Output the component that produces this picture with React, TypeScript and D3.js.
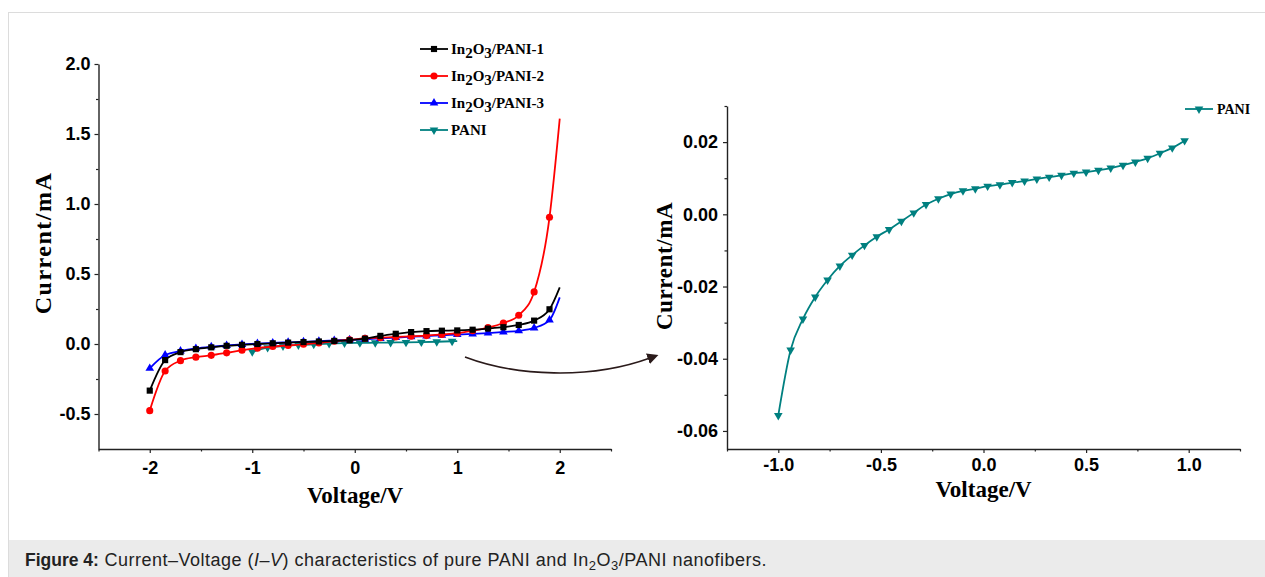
import { useEffect, useRef } from "react";
import * as d3 from "d3";

// left panel: all three composites share the same voltage sweep
const VOLTS = [
  -2, -1.85, -1.7, -1.55, -1.4, -1.25, -1.1, -0.95, -0.8, -0.65, -0.5, -0.35, -0.2, -0.05,
  0.1, 0.25, 0.4, 0.55, 0.7, 0.85, 1.0, 1.15, 1.3, 1.45, 1.6, 1.75, 1.9, 2.0,
];
const PANI_1 = [
  -0.333, -0.115, -0.058, -0.037, -0.024, -0.013, -0.006, 0.0, 0.005, 0.01, 0.014, 0.018, 0.022, 0.027,
  0.038, 0.058, 0.073, 0.085, 0.092, 0.095, 0.097, 0.102, 0.11, 0.12, 0.136, 0.167, 0.248, 0.405,
];
const PANI_2 = [
  -0.476, -0.193, -0.119, -0.094, -0.081, -0.063, -0.044, -0.03, -0.018, -0.01, -0.002, 0.008, 0.02, 0.03,
  0.04, 0.045, 0.05, 0.055, 0.06, 0.068, 0.077, 0.095, 0.117, 0.15, 0.205, 0.372, 0.905, 1.61,
];
const PANI_3 = [
  -0.174, -0.079, -0.05, -0.031, -0.019, -0.01, -0.003, 0.003, 0.008, 0.012, 0.016, 0.02, 0.025, 0.03,
  0.034, 0.04, 0.046, 0.052, 0.057, 0.062, 0.067, 0.072, 0.078, 0.086, 0.094, 0.115, 0.171, 0.333,
];
const PANI_LEFT_V = [-1, -0.85, -0.7, -0.55, -0.4, -0.25, -0.1, 0.05, 0.2, 0.35, 0.5, 0.65, 0.8, 0.95, 1.0];
const PANI_LEFT_I = [
  -0.0557, -0.026, -0.0143, -0.0074, -0.0019, 0.0035, 0.0065, 0.008, 0.0092, 0.0105, 0.0117, 0.0135, 0.016,
  0.0195, 0.0204,
];

// right panel: pure PANI, zoomed
const PANI_V = [
  -1.0, -0.94, -0.88, -0.82, -0.76, -0.7, -0.64, -0.58, -0.52, -0.46, -0.4, -0.34, -0.28, -0.22, -0.16, -0.1,
  -0.04, 0.02, 0.08, 0.14, 0.2, 0.26, 0.32, 0.38, 0.44, 0.5, 0.56, 0.62, 0.68, 0.74, 0.8, 0.86, 0.92, 0.98,
];
const PANI_I = [
  -0.0557, -0.0376, -0.029, -0.0229, -0.0182, -0.0143, -0.0113, -0.0086, -0.0062, -0.0042, -0.0019, 0.0004,
  0.0027, 0.0043, 0.0056, 0.0065, 0.0071, 0.0078, 0.0082, 0.0088, 0.0092, 0.0098, 0.0103, 0.0108, 0.0114,
  0.0117, 0.0122, 0.0128, 0.0136, 0.0145, 0.0155, 0.0169, 0.0184, 0.0204,
];

const LEFT_X_MAJOR = [-2, -1, 0, 1, 2];
const LEFT_X_MINOR = [-2.5, -1.5, -0.5, 0.5, 1.5, 2.5];
const LEFT_Y_MAJOR = [-0.5, 0, 0.5, 1.0, 1.5, 2.0];
const LEFT_Y_MINOR = [-0.25, 0.25, 0.75, 1.25, 1.75];
const RIGHT_X_MAJOR = [-1.0, -0.5, 0, 0.5, 1.0];
const RIGHT_X_MINOR = [-1.25, -0.75, -0.25, 0.25, 0.75, 1.25];
const RIGHT_Y_MAJOR = [-0.06, -0.04, -0.02, 0, 0.02];
const RIGHT_Y_MINOR = [-0.05, -0.03, -0.01, 0.01, 0.03];

const W = 1265;
const H = 577;
const SERIF = "'Liberation Serif', 'Times New Roman', serif";
const SANS = "'Liberation Sans', Arial, sans-serif";
const AXIS_COLOR = "#222";

type Series = {
  name: string;
  sub: boolean;
  color: string;
  shape: d3.SymbolType;
  size: number;
  flip: boolean;
  v: number[];
  i: number[];
};

function App() {
  const ref = useRef<SVGSVGElement>(null);

  useEffect(() => {
    const svg = d3.select(ref.current);
    svg.selectAll("*").remove();

    // figure frame + caption band
    svg
      .append("rect")
      .attr("x", 8.5)
      .attr("y", 12.5)
      .attr("width", W + 20)
      .attr("height", H + 20)
      .attr("fill", "#fff")
      .attr("stroke", "#dcdcdc");
    svg.append("rect").attr("x", 9).attr("y", 540).attr("width", W).attr("height", 40).attr("fill", "#ebebeb");

    const caption = svg
      .append("text")
      .attr("x", 25)
      .attr("y", 566)
      .attr("fill", "#222")
      .style("font-family", SANS)
      .style("font-size", "18px")
      .style("letter-spacing", "0.5px");
    caption
      .append("tspan")
      .attr("font-weight", "bold")
      .attr("font-size", "17.5px")
      .style("letter-spacing", "0px")
      .text("Figure 4:");
    caption.append("tspan").text(" Current\u2013Voltage (");
    caption.append("tspan").attr("font-style", "italic").text("I\u2013V");
    caption.append("tspan").text(") characteristics of pure PANI and In");
    caption.append("tspan").attr("font-size", "13px").attr("dy", 4).text("2");
    caption.append("tspan").attr("dy", -4).text("O");
    caption.append("tspan").attr("font-size", "13px").attr("dy", 4).text("3");
    caption.append("tspan").attr("dy", -4).text("/PANI nanofibers.");

    const xL = d3.scaleLinear().domain([-2.5, 2.5]).range([98.5, 611]);
    const yL = d3.scaleLinear().domain([-0.75, 2.0]).range([449, 64]);
    const xR = d3.scaleLinear().domain([-1.25, 1.25]).range([727, 1240]);
    const yR = d3.scaleLinear().domain([-0.065, 0.03]).range([449, 106]);

    function drawAxis(
      orient: "left" | "bottom",
      scale: d3.ScaleLinear<number, number>,
      pos: number,
      major: number[],
      minor: number[],
      fmt: (d: number) => string,
      pad: number
    ) {
      const make = orient === "left" ? d3.axisLeft : d3.axisBottom;
      const tr = orient === "left" ? `translate(${pos},0)` : `translate(0,${pos})`;
      const gMinor = svg
        .append("g")
        .attr("transform", tr)
        .call(make(scale).tickValues(minor).tickSize(2.5).tickSizeOuter(0).tickFormat(() => ""));
      gMinor.select(".domain").remove();
      gMinor.selectAll("line").attr("stroke", AXIS_COLOR).attr("stroke-width", 1.2);
      const g = svg
        .append("g")
        .attr("transform", tr)
        .call(
          make(scale)
            .tickValues(major)
            .tickSize(4)
            .tickSizeOuter(0)
            .tickPadding(pad)
            .tickFormat((d) => fmt(d as number))
        );
      g.select(".domain").attr("stroke", AXIS_COLOR).attr("stroke-width", 1.4);
      g.selectAll("line").attr("stroke", AXIS_COLOR).attr("stroke-width", 1.2);
      g.selectAll("text")
        .attr("fill", "#000")
        .style("font-family", SANS)
        .style("font-size", "18px")
        .style("font-weight", "bold");
    }

    drawAxis("left", yL, 98.5, LEFT_Y_MAJOR, LEFT_Y_MINOR, (d) => d.toFixed(1), 4);
    drawAxis("bottom", xL, 449, LEFT_X_MAJOR, LEFT_X_MINOR, (d) => d.toFixed(0), 8);
    drawAxis("left", yR, 727, RIGHT_Y_MAJOR, RIGHT_Y_MINOR, (d) => d.toFixed(2), 5);
    drawAxis("bottom", xR, 449, RIGHT_X_MAJOR, RIGHT_X_MINOR, (d) => d.toFixed(1), 5);

    // axis titles
    const title = (x: number, y: number, size: number, txt: string, rot: boolean, spacing = 0) =>
      svg
        .append("text")
        .attr("transform", rot ? `translate(${x},${y}) rotate(-90)` : `translate(${x},${y})`)
        .attr("text-anchor", "middle")
        .attr("fill", "#000")
        .style("font-family", SERIF)
        .style("font-size", `${size}px`)
        .style("font-weight", "bold")
        .style("letter-spacing", `${spacing}px`)
        .text(txt);
    title(51, 243, 24, "Current/mA", true, 1.5);
    title(355, 503, 23, "Voltage/V", false);
    title(672, 266, 23, "Current/mA", true, 0.6);
    title(983.5, 497, 23, "Voltage/V", false);

    const series: Series[] = [
      { name: "/PANI-1", sub: true, color: "#000000", shape: d3.symbolSquare, size: 38, flip: false, v: VOLTS, i: PANI_1 },
      { name: "/PANI-2", sub: true, color: "#ff0000", shape: d3.symbolCircle, size: 40, flip: false, v: VOLTS, i: PANI_2 },
      { name: "/PANI-3", sub: true, color: "#0000ff", shape: d3.symbolTriangle, size: 32, flip: false, v: VOLTS, i: PANI_3 },
      { name: "PANI", sub: false, color: "#008080", shape: d3.symbolTriangle, size: 32, flip: true, v: PANI_LEFT_V, i: PANI_LEFT_I },
    ];

    const drawSeries = (
      s: { color: string; shape: d3.SymbolType; size: number; flip: boolean; v: number[]; i: number[] },
      x: d3.ScaleLinear<number, number>,
      y: d3.ScaleLinear<number, number>,
      markLast: boolean
    ) => {
      const pts: [number, number][] = s.v.map((v, k) => [v, s.i[k]]);
      const line = d3
        .line<[number, number]>()
        .x((d) => x(d[0]))
        .y((d) => y(d[1]))
        .curve(d3.curveMonotoneX);
      svg
        .append("path")
        .datum(pts)
        .attr("fill", "none")
        .attr("stroke", s.color)
        .attr("stroke-width", 1.8)
        .attr("d", line);
      const marked = markLast ? pts : pts.slice(0, -1);
      svg
        .append("g")
        .selectAll("path")
        .data(marked)
        .enter()
        .append("path")
        .attr("d", d3.symbol().type(s.shape).size(s.size)())
        .attr("transform", (d) => `translate(${x(d[0])},${y(d[1])})${s.flip ? " rotate(180)" : ""}`)
        .attr("fill", s.color);
    };

    // draw order: PANI under, then blue, red, black on top like the original
    drawSeries(series[3], xL, yL, false);
    drawSeries(series[2], xL, yL, false);
    drawSeries(series[1], xL, yL, false);
    drawSeries(series[0], xL, yL, false);

    // left legend
    series.forEach((s, k) => {
      const ly = 49 + k * 27;
      svg
        .append("line")
        .attr("x1", 420)
        .attr("x2", 448)
        .attr("y1", ly)
        .attr("y2", ly)
        .attr("stroke", s.color)
        .attr("stroke-width", 1.8);
      svg
        .append("path")
        .attr("d", d3.symbol().type(s.shape).size(s.size)())
        .attr("transform", `translate(434,${ly})${s.flip ? " rotate(180)" : ""}`)
        .attr("fill", s.color);
      const t = svg
        .append("text")
        .attr("x", 451)
        .attr("y", ly + 5)
        .attr("fill", "#000")
        .style("font-family", SERIF)
        .style("font-size", "15px")
        .style("font-weight", "bold");
      if (s.sub) {
        t.append("tspan").text("In");
        t.append("tspan").attr("dy", 4).text("2");
        t.append("tspan").attr("dy", -4).text("O");
        t.append("tspan").attr("dy", 4).text("3");
        t.append("tspan").attr("dy", -4).text(s.name);
      } else {
        t.text(s.name);
      }
    });

    // right panel
    const pani = { color: "#008080", shape: d3.symbolTriangle, size: 32, flip: true, v: PANI_V, i: PANI_I };
    drawSeries(pani, xR, yR, true);
    svg
      .append("line")
      .attr("x1", 1185)
      .attr("x2", 1213)
      .attr("y1", 109)
      .attr("y2", 109)
      .attr("stroke", pani.color)
      .attr("stroke-width", 1.8);
    svg
      .append("path")
      .attr("d", d3.symbol().type(pani.shape).size(pani.size)())
      .attr("transform", "translate(1199,109) rotate(180)")
      .attr("fill", pani.color);
    svg
      .append("text")
      .attr("x", 1217)
      .attr("y", 114)
      .attr("fill", "#000")
      .style("font-family", SERIF)
      .style("font-size", "14px")
      .style("font-weight", "bold")
      .text("PANI");

    // curved arrow linking the panels
    svg
      .append("defs")
      .append("marker")
      .attr("id", "arrowhead")
      .attr("viewBox", "0 0 10 10")
      .attr("refX", 2)
      .attr("refY", 5)
      .attr("markerWidth", 7)
      .attr("markerHeight", 7)
      .attr("markerUnits", "strokeWidth")
      .attr("orient", "auto")
      .append("path")
      .attr("d", "M0,0 L10,5 L0,10 Z")
      .attr("fill", "#2a1a1a");
    svg
      .append("path")
      .attr("d", "M465,357 C515,376 590,380 650,358")
      .attr("fill", "none")
      .attr("stroke", "#2a1a1a")
      .attr("stroke-width", 1.6)
      .attr("marker-end", "url(#arrowhead)");
  }, []);

  return (
    <svg
      ref={ref}
      width={W}
      height={H}
      style={{ position: "absolute", left: 0, top: 0, display: "block" }}
    />
  );
}

export default App;
